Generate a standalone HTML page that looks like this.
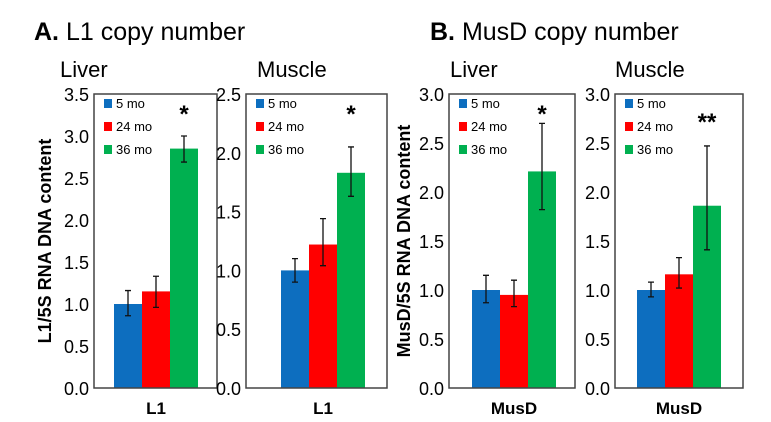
<!DOCTYPE html>
<html><head><meta charset="utf-8"><style>
body{margin:0;background:#fff;}
svg{display:block;font-family:"Liberation Sans",Arial,sans-serif;}
</style></head><body>
<svg id="c" width="771" height="422">
<text x="34" y="40" font-size="25"><tspan font-weight="bold">A.</tspan> L1 copy number</text>
<text x="430" y="40" font-size="25"><tspan font-weight="bold">B.</tspan> MusD copy number</text>
<text x="60" y="77" font-size="22">Liver</text>
<text x="257" y="77" font-size="22">Muscle</text>
<text x="450" y="77" font-size="22">Liver</text>
<text x="615" y="77" font-size="22">Muscle</text>
<text transform="translate(51,241) rotate(-90)" text-anchor="middle" font-size="18" font-weight="bold">L1/5S RNA DNA content</text>
<text transform="translate(410,241) rotate(-90)" text-anchor="middle" font-size="18" font-weight="bold">MusD/5S RNA DNA content</text>
</svg>
<script>
const seriesNames=["5 mo","24 mo","36 mo"];
const colors=["#0d6ebf","#ff0000","#00b050"];
const l1LiverValues=[1.0,1.15,2.85];
const l1LiverErrLow=[0.86,0.96,2.69];
const l1LiverErrHigh=[1.16,1.33,3.0];
const l1MuscleValues=[1.0,1.22,1.83];
const l1MuscleErrLow=[0.9,1.04,1.63];
const l1MuscleErrHigh=[1.1,1.44,2.05];
const musdLiverValues=[1.0,0.95,2.21];
const musdLiverErrLow=[0.87,0.83,1.82];
const musdLiverErrHigh=[1.15,1.1,2.7];
const musdMuscleValues=[1.0,1.16,1.86];
const musdMuscleErrLow=[0.93,1.02,1.41];
const musdMuscleErrHigh=[1.08,1.33,2.47];
const l1LiverTicks=[0,0.5,1,1.5,2,2.5,3,3.5];
const l1MuscleTicks=[0,0.5,1,1.5,2,2.5];
const musdTicks=[0,0.5,1,1.5,2,2.5,3];
const panels=[
 {n:"l1-liver",x0:94,x1:217,b0:114,max:3.5,ticks:l1LiverTicks,v:l1LiverValues,lo:l1LiverErrLow,hi:l1LiverErrHigh,x:"L1",star:"*"},
 {n:"l1-muscle",x0:246,x1:387,b0:281,max:2.5,ticks:l1MuscleTicks,v:l1MuscleValues,lo:l1MuscleErrLow,hi:l1MuscleErrHigh,x:"L1",star:"*"},
 {n:"musd-liver",x0:449,x1:575,b0:472,max:3.0,ticks:musdTicks,v:musdLiverValues,lo:musdLiverErrLow,hi:musdLiverErrHigh,x:"MusD",star:"*"},
 {n:"musd-muscle",x0:615,x1:743,b0:637,max:3.0,ticks:musdTicks,v:musdMuscleValues,lo:musdMuscleErrLow,hi:musdMuscleErrHigh,x:"MusD",star:"**"}
];
const svg=document.getElementById('c');const NS="http://www.w3.org/2000/svg";
function mk(t,a,txt){const e=document.createElementNS(NS,t);for(const k in a)e.setAttribute(k,a[k]);if(txt!=null)e.textContent=txt;svg.appendChild(e);return e;}
const yTop=94,yBot=388,bw=28;
panels.forEach(p=>{
 const y=v=>yBot-(v/p.max)*(yBot-yTop);
 p.ticks.forEach(t=>{
  const e=mk('text',{x:p.x0-5,y:y(t)+7,'text-anchor':'end','font-size':18},t.toFixed(1));
  
  
 });
 p.v.forEach((v,i)=>{
  const bx=p.b0+i*bw;
  const r=mk('rect',{x:bx,y:y(v),width:bw,height:yBot-y(v),fill:colors[i]});
  
  
  const cx=bx+bw/2;
  const l=mk('path',{d:`M${cx},${y(p.lo[i])}V${y(p.hi[i])}M${cx-3},${y(p.lo[i])}h6M${cx-3},${y(p.hi[i])}h6`,stroke:'#111','stroke-width':1.3,fill:'none'});
  
  
 });
 const f=mk('rect',{x:p.x0,y:yTop,width:p.x1-p.x0,height:yBot-yTop,fill:'none',stroke:'#444','stroke-width':1.5});
 
 
 seriesNames.forEach((s,i)=>{
  const sw=mk('rect',{x:p.x0+10,y:99+i*23,width:8,height:9,fill:colors[i]});
  
  
  const t=mk('text',{x:p.x0+22,y:108+i*23,'font-size':13},s);
  
  
 });
 const st=mk('text',{x:p.b0+2.5*bw,y:p.star=="**"?130:122,'text-anchor':'middle','font-size':24,'font-weight':'bold'},p.star);
 
 
 const xl=mk('text',{x:p.b0+1.5*bw,y:414,'text-anchor':'middle','font-size':17,'font-weight':'bold'},p.x);
 
 
});
</script>
</body></html>
